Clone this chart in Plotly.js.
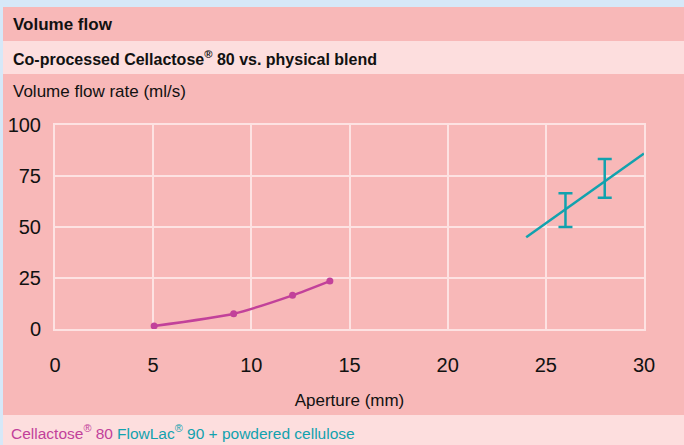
<!DOCTYPE html>
<html><head><meta charset="utf-8">
<script src="https://cdn.plot.ly/plotly-3.0.1.min.js"></script>
<style>html,body{margin:0;padding:0;background:#d6e8f8;}#c{width:684px;height:445px;}</style>
</head><body><div id="c"></div>
<script>
const cellactoseX = [5.05, 9.1, 12.1, 14.0];
const cellactoseY = [1.5, 7.5, 16.5, 23.5];
const blendLineX = [24, 30];
const blendLineY = [45, 86];
const blendErrX = [26, 28];
const blendErrY = [58.3, 73.8];
const blendErr = [8.3, 9.5];
const xTicks = [0, 5, 10, 15, 20, 25, 30];
const yTicks = [0, 25, 50, 75, 100];

const PINK = '#f8b8b8', LIGHT = '#fddede', BLUE = '#d6e8f8', GRID = '#fde2e2';
const MAG = '#c2419a', TEAL = '#12a2ae';
const FONT = '"Liberation Sans", Arial, sans-serif';
const L = 55, R = 644, T = 125, B = 329;
const px = v => (v - L) / (R - L);
const py = v => (B - v) / (B - T);

function rect(x0, y0, x1, y1, color) {
  return {type: 'rect', xref: 'paper', yref: 'paper', x0: px(x0), x1: px(x1), y0: py(y1), y1: py(y0),
    fillcolor: color, line: {width: 0}, layer: 'below'};
}
function label(text, x, y, size, color, bold) {
  return {text: bold ? '<b>' + text + '</b>' : text, xref: 'paper', yref: 'paper', x: px(x), y: py(y),
    xanchor: 'left', yanchor: 'middle', showarrow: false, font: {family: FONT, size: size, color: color}};
}

const data = [
  {x: cellactoseX, y: cellactoseY, mode: 'lines+markers', line: {color: MAG, width: 2.5, shape: 'spline', smoothing: 0.6},
   marker: {color: MAG, size: 7}, hoverinfo: 'none'},
  {x: blendLineX, y: blendLineY, mode: 'lines', line: {color: TEAL, width: 2.5}, hoverinfo: 'none'},
  {x: blendErrX, y: blendErrY, mode: 'markers', marker: {size: 1, color: 'rgba(0,0,0,0)'},
   error_y: {type: 'data', array: blendErr, visible: true, color: TEAL, thickness: 2.5, width: 7}, hoverinfo: 'none'}
];

const layout = {
  width: 684, height: 445,
  margin: {l: L, r: 684 - R, t: T, b: 445 - B},
  paper_bgcolor: PINK, plot_bgcolor: PINK,
  showlegend: false,
  font: {family: FONT, size: 20, color: '#111'},
  xaxis: {range: [0, 30], tickvals: xTicks, ticktext: xTicks.map(String), showgrid: true, gridcolor: GRID, gridwidth: 2,
    zeroline: false, showline: true, mirror: true, linecolor: GRID, linewidth: 2, ticks: '', ticklabelstandoff: 17,
    tickfont: {family: FONT, size: 20, color: '#111'}, fixedrange: true,
    title: {text: 'Aperture (mm)', standoff: 19, font: {family: FONT, size: 17, color: '#111'}}},
  yaxis: {range: [0, 100], tickvals: yTicks, ticktext: yTicks.map(String), showgrid: true, gridcolor: GRID, gridwidth: 2,
    zeroline: false, showline: true, mirror: true, linecolor: GRID, linewidth: 2, ticks: '', ticklabelstandoff: 8,
    tickfont: {family: FONT, size: 20, color: '#111'}, fixedrange: true},
  shapes: [
    rect(0, 0, 684, 7, BLUE),
    rect(0, 0, 3, 445, BLUE),
    rect(3, 41, 684, 74, LIGHT),
    rect(3, 415, 684, 445, LIGHT)
  ],
  annotations: [
    label('Volume flow', 11, 24, 17, '#111', true),
    label('Co-processed Cellactose<sup>®</sup> 80 vs. physical blend', 11, 58, 16, '#111', true),
    label('Volume flow rate (ml/s)', 11, 92, 17, '#111', false),
    label('Cellactose<sup>®</sup> 80', 9, 432, 15.5, MAG, false),
    label('FlowLac<sup>®</sup> 90 + powdered cellulose', 115, 432, 15.5, TEAL, false)
  ]
};
Plotly.newPlot('c', data, layout, {staticPlot: true, displayModeBar: false});
</script></body></html>
